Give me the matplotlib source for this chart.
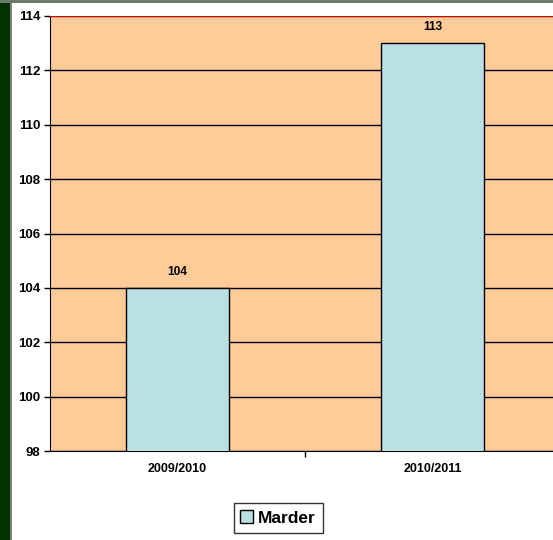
import matplotlib.pyplot as plt
from matplotlib.patches import Rectangle

plt.rcParams['font.family'] = ['Liberation Sans', 'DejaVu Sans']

seasons = ['2009/2010', '2010/2011']
marder = [104, 113]
yticks = [98, 100, 102, 104, 106, 108, 110, 112, 114]

W, H = 553, 540
fig = plt.figure(figsize=(W / 100, H / 100), dpi=100)
fig.patch.set_facecolor('white')

# dark green frame strip on the left and grey border line
fig.add_artist(Rectangle((0, 0), 10 / W, 1, transform=fig.transFigure,
                         facecolor='#003300', edgecolor='none'))
fig.add_artist(Rectangle((10 / W, 0), 2 / W, 1, transform=fig.transFigure,
                         facecolor='#7f7f7f', edgecolor='none'))
fig.add_artist(Rectangle((0, 1 - 3 / H), 1, 3 / H, transform=fig.transFigure,
                         facecolor='#6b7a6b', edgecolor='none'))

ax = fig.add_axes([50 / W, 89 / H, 510 / W, 435 / H])
ax.set_facecolor('#FFCC99')
x = range(len(seasons))
bars = ax.bar(x, marder, width=0.404, color='#BBE0E3', edgecolor='black',
              linewidth=1, zorder=3, label='Marder')
ax.set_xlim(-0.5, 1.5)
ax.set_ylim(98, 114)
ax.set_yticks(yticks)
ax.set_yticklabels([str(v) for v in yticks], fontsize=9.5, fontweight='bold')
ax.set_xticks([0.5])
ax.set_xticklabels([''])
for i, s in enumerate(seasons):
    ax.text(i, 97.35, s, ha='center', va='center', fontsize=9, fontweight='bold')
ax.grid(axis='y', color='black', linewidth=1, zorder=1)
ax.axhline(114, color='#cc0000', linewidth=1.5, zorder=4)
for side in ['top', 'right']:
    ax.spines[side].set_visible(False)
ax.spines['left'].set_color('black')
ax.spines['bottom'].set_color('black')
ax.tick_params(axis='y', length=4, width=1, pad=3)
ax.tick_params(axis='x', length=4, width=1)

for b, v in zip(bars, marder):
    ax.text(b.get_x() + b.get_width() / 2, v + 0.58, str(v), ha='center',
            va='center', fontsize=8.6, fontweight='bold')

leg = fig.legend(handles=[bars], labels=['Marder'], loc='center',
                 bbox_to_anchor=(278 / W, 1 - 518 / H),
                 prop={'weight': 'bold', 'size': 12.5}, frameon=True, fancybox=False,
                 handlelength=0.7, handleheight=0.7, handletextpad=0.3,
                 borderpad=0.4)
leg.get_frame().set_edgecolor('black')
leg.get_frame().set_linewidth(1)

fig.savefig('out.png', dpi=100)
